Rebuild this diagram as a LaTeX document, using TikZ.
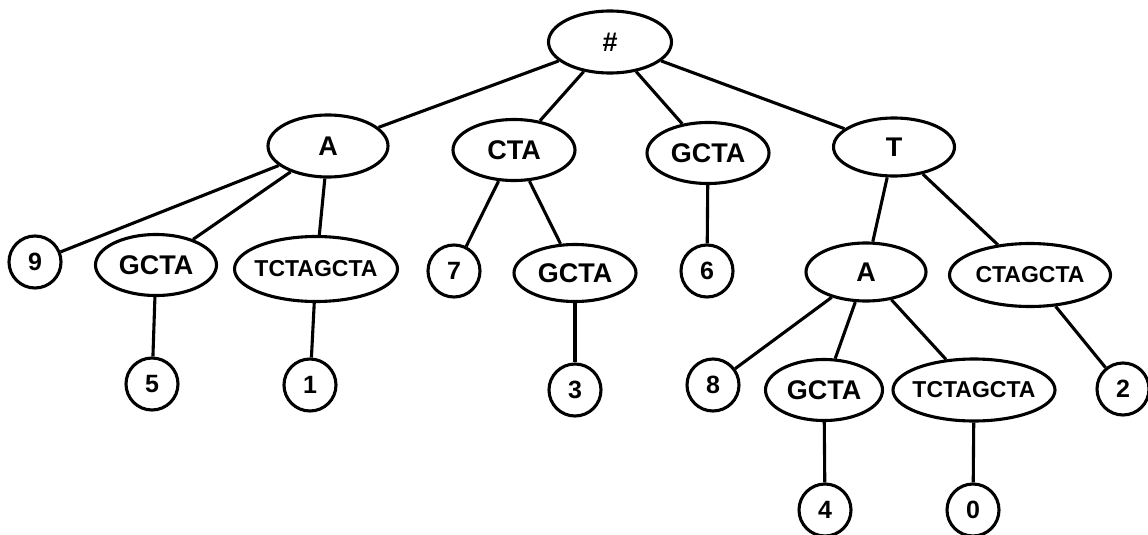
\documentclass[tikz,border=0pt]{standalone}
\usepackage{fontspec}
\setmainfont{Liberation Sans}
\usetikzlibrary{shapes.geometric}
\newcommand{\narrowlbl}[1]{\makebox[100pt][c]{#1}}
\tikzset{
  lbl/.style={font=\fontsize{27}{30}\selectfont\bfseries},
  lbls/.style={font=\fontsize{23}{26}\selectfont\bfseries},
  lbln/.style={font=\fontsize{25}{28}\selectfont\bfseries},
  ell/.style={ellipse, draw, line width=3.1pt, inner sep=0pt, lbl},
  num/.style={circle, draw, line width=3.1pt, minimum size=52pt, inner sep=0pt, lbln},
  conn/.style={line width=3.1pt}
}
\begin{document}
\begin{tikzpicture}[x=1pt,y=-1pt]
\useasboundingbox[fill=white] (0,0) rectangle (1148,535);
% level 0
\node[ell, minimum width=123pt, minimum height=62pt] (root) at (610,42) {\#};
% level 1
\node[ell, minimum width=120pt, minimum height=62pt] (a1) at (328,146) {A};
\node[ell, minimum width=122pt, minimum height=61pt] (cta) at (514,150) {CTA};
\node[ell, minimum width=122pt, minimum height=61pt] (gcta1) at (708,153) {GCTA};
\node[ell, minimum width=121pt, minimum height=58pt] (t) at (894,147) {T};
% level 2
\node[num] (n9) at (35,262) {9};
\node[ell, minimum width=121pt, minimum height=61pt] (gcta2) at (156,265) {GCTA};
\node[ell, lbls, minimum width=163pt, minimum height=65pt] (tctagcta2) at (316,269) {\narrowlbl{TCTAGCTA}};
\node[num] (n7) at (454,271) {7};
\node[ell, minimum width=122pt, minimum height=57pt] (gcta3) at (575,273) {GCTA};
\node[num] (n6) at (707,271) {6};
\node[ell, minimum width=120pt, minimum height=58pt] (a2) at (866,272) {A};
\node[ell, lbls, minimum width=161pt, minimum height=63pt] (ctagcta) at (1030,275) {\narrowlbl{CTAGCTA}};
% level 3
\node[num] (n5) at (152,384) {5};
\node[num] (n1) at (310,385) {1};
\node[num] (n3) at (575,390) {3};
\node[num] (n8) at (713,385) {8};
\node[ell, minimum width=117pt, minimum height=61pt] (gcta4) at (824,390) {GCTA};
\node[ell, lbls, minimum width=162pt, minimum height=62pt] (tctagcta4) at (974,390) {\narrowlbl{TCTAGCTA}};
\node[num] (n2) at (1123,389) {2};
% level 4
\node[num] (n4) at (825,510) {4};
\node[num] (n0) at (973,510) {0};
% connectors
\draw[conn] (root) -- (a1);
\draw[conn] (root) -- (cta);
\draw[conn] (root) -- (gcta1);
\draw[conn] (root) -- (t);
\draw[conn] (a1) -- (n9);
\draw[conn] (a1) -- (gcta2);
\draw[conn] (a1) -- (tctagcta2);
\draw[conn] (cta) -- (n7);
\draw[conn] (cta) -- (gcta3);
\draw[conn] (gcta1) -- (n6);
\draw[conn] (t) -- (a2);
\draw[conn] (t) -- (ctagcta);
\draw[conn] (gcta2) -- (n5);
\draw[conn] (tctagcta2) -- (n1);
\draw[conn] (gcta3) -- (n3);
\draw[conn] (a2) -- (n8);
\draw[conn] (a2) -- (gcta4);
\draw[conn] (a2) -- (tctagcta4);
\draw[conn] (ctagcta) -- (n2);
\draw[conn] (gcta4) -- (n4);
\draw[conn] (tctagcta4) -- (n0);
\end{tikzpicture}
\end{document}
